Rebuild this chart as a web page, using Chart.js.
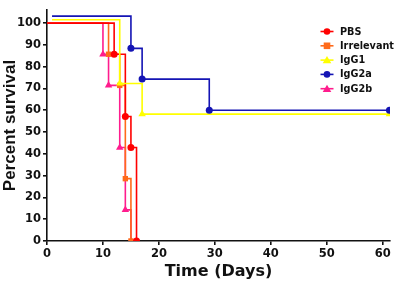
<!DOCTYPE html>
<html>
<head>
<meta charset="utf-8">
<script src="https://cdn.jsdelivr.net/npm/chart.js@4/dist/chart.umd.min.js"></script>
<style>
html,body{margin:0;padding:0;background:#fff;}
#wrap{width:400px;height:285px;position:relative;}
</style>
</head>
<body>
<div id="wrap"><canvas id="c" width="400" height="285"></canvas></div>
<script>
// Kaplan–Meier steps
const seriesNames = ['PBS', 'Irrelevant', 'IgG1', 'IgG2a', 'IgG2b'];

const pbsDays  = [0, 12, 14, 15, 16];
const pbsSurv  = [100, 85.7, 57.1, 42.9, 0];

const irrDays  = [0, 11, 13, 14, 15];
const irrSurv  = [100, 85.7, 71.4, 28.6, 0];

const igg1Days = [0.9, 13, 17, 61.2];
const igg1Surv = [101.5, 72.3, 58.2, 58.2];

const igg2aDays = [0.9, 15, 17, 29, 61.2];
const igg2aSurv = [103.2, 88.4, 74.3, 60, 60];

const igg2bDays = [0, 10, 11, 13, 14, 15];
const igg2bSurv = [100, 85.7, 71.4, 42.9, 14.3, 0];

const xTicks = [0, 10, 20, 30, 40, 50, 60];
const yTicks = [0, 10, 20, 30, 40, 50, 60, 70, 80, 90, 100];

const colors = ['#FF0000', '#FF6A1A', '#FFFF00', '#1414B4', '#FF1C8D'];
const markers = ['circle', 'rect', 'triangle', 'circle', 'triangle'];

function pts(xs, ys) { return xs.map((x, i) => ({x: x, y: ys[i]})); }
const allData = [
  pts(pbsDays, pbsSurv),
  pts(irrDays, irrSurv),
  pts(igg1Days, igg1Surv),
  pts(igg2aDays, igg2aSurv),
  pts(igg2bDays, igg2bSurv)
];

const order = [2, 3, 1, 0, 4];
const datasets = seriesNames.map((name, i) => ({
  label: name,
  data: allData[i],
  borderColor: colors[i],
  backgroundColor: colors[i],
  borderWidth: 1.6,
  stepped: 'before',
  pointStyle: markers[i],
  pointRadius: ctx => ctx.dataIndex === 0 ? 0 : (markers[i] === 'circle' ? 3.5 : (markers[i] === 'rect' ? 3.8 : 4.3)),
  pointBorderWidth: 0,
  pointHoverRadius: 0,
  order: order[i],
  fill: false
}));

const FONT = "'DejaVu Sans', Verdana, sans-serif";

const legendPlugin = {
  id: 'insideLegend',
  afterDraw(chart) {
    const ctx = chart.ctx;
    ctx.save();
    ctx.font = "bold 9.7px " + FONT;
    ctx.textBaseline = 'middle';
    seriesNames.forEach((name, i) => {
      const y = 31.5 + i * 14.3;
      const xm = 327;
      ctx.strokeStyle = colors[i];
      ctx.lineWidth = 1.6;
      ctx.beginPath();
      ctx.moveTo(xm - 6.5, y);
      ctx.lineTo(xm + 6.5, y);
      ctx.stroke();
      ctx.fillStyle = colors[i];
      ctx.beginPath();
      if (markers[i] === 'circle') {
        ctx.arc(xm, y, 3.3, 0, Math.PI * 2);
      } else if (markers[i] === 'rect') {
        ctx.rect(xm - 3.3, y - 3.3, 6.6, 6.6);
      } else {
        ctx.moveTo(xm, y - 4);
        ctx.lineTo(xm + 4.3, y + 3.2);
        ctx.lineTo(xm - 4.3, y + 3.2);
        ctx.closePath();
      }
      ctx.fill();
      ctx.fillStyle = '#111';
      ctx.fillText(name, 340, y + 0.5);
    });
    ctx.restore();
  }
};

new Chart(document.getElementById('c'), {
  type: 'line',
  data: { datasets: datasets },
  options: {
    responsive: false,
    animation: false,
    devicePixelRatio: 1,
    layout: { padding: { top: 10, right: 10, left: 0, bottom: 0 } },
    plugins: { legend: { display: false }, tooltip: { enabled: false } },
    scales: {
      x: {
        type: 'linear',
        min: 0,
        max: 61.3,
        afterFit: s => { s.height = 44; },
        afterBuildTicks: s => { s.ticks = xTicks.map(v => ({value: v})); },
        border: { color: '#111', width: 1.6 },
        grid: { drawOnChartArea: false, drawTicks: true, tickLength: 4, color: '#111', lineWidth: 1.6 },
        ticks: { color: '#111', font: { family: FONT, size: 11.5, weight: 'bold' }, padding: 2, maxRotation: 0 },
        title: { display: true, text: 'Time (Days)', color: '#111', font: { family: FONT, size: 16, weight: 'bold' }, padding: { top: 0, bottom: 4 } }
      },
      y: {
        type: 'linear',
        min: 0,
        max: 106,
        afterFit: s => { s.width = 47; },
        afterBuildTicks: s => { s.ticks = yTicks.map(v => ({value: v})); },
        border: { color: '#111', width: 1.6 },
        grid: { drawOnChartArea: false, drawTicks: true, tickLength: 4, color: '#111', lineWidth: 1.6 },
        ticks: { color: '#111', font: { family: FONT, size: 11.5, weight: 'bold' }, padding: 2 },
        title: { display: true, text: 'Percent survival', color: '#111', font: { family: "'Liberation Sans', Arial, sans-serif", size: 17, weight: 'bold' }, padding: { top: 0, bottom: 0 } }
      }
    }
  },
  plugins: [legendPlugin]
});
</script>
</body>
</html>
